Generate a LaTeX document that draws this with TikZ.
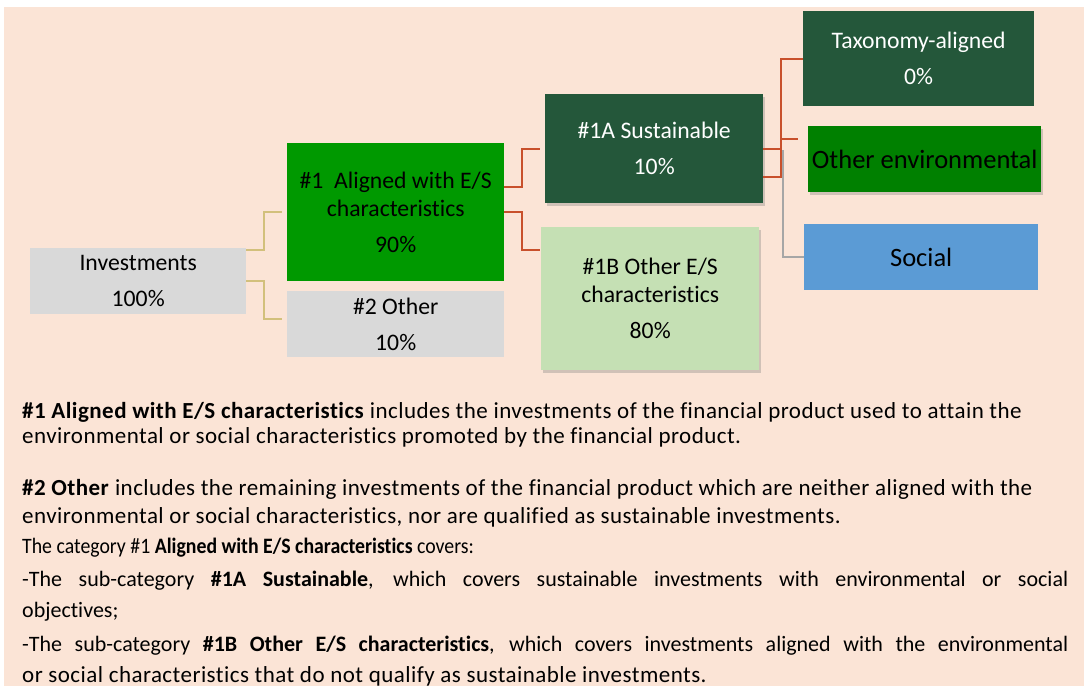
\documentclass[tikz,border=0pt]{standalone}
\usepackage{fontspec}
\setmainfont{Carlito}[Ligatures=NoCommon]
\newfontfamily\widefont{Carlito}[Ligatures=NoCommon,LetterSpace=2]
\newfontfamily\condfont{Carlito}[Ligatures=NoCommon,FakeStretch=0.9]
\usetikzlibrary{shadows,calc}
\definecolor{bgc}{HTML}{FBE4D6}
\definecolor{greyb}{HTML}{D9D9D9}
\definecolor{greenb}{HTML}{009900}
\definecolor{darkg}{HTML}{24573A}
\definecolor{lightg}{HTML}{C5E0B4}
\definecolor{envg}{HTML}{008000}
\definecolor{blueb}{HTML}{5B9BD5}
\definecolor{olivec}{HTML}{D2C07C}
\definecolor{redc}{HTML}{C8502C}
\definecolor{greyc}{HTML}{A6A6A6}
\tikzset{
  box/.style={draw=none, inner sep=0pt, align=center, anchor=north west,
    font=\fontsize{23.7}{28}\selectfont},
  shad/.style={drop shadow={opacity=0.35, shadow xshift=2pt, shadow yshift=-3pt}},
  conO/.style={olivec, line width=2pt},
  conR/.style={redc, line width=2pt},
  conG/.style={greyc, line width=2pt},
  para/.style={anchor=base west, inner sep=0pt, font=\fontsize{22}{26}\selectfont},
  wpara/.style={para, font=\widefont\fontsize{23}{26}\selectfont},
  cpara/.style={para, font=\condfont\fontsize{22}{26}\selectfont}
}
\begin{document}
\begin{tikzpicture}[x=1pt,y=-1pt]
\useasboundingbox (0,0) rectangle (1088,686);
\fill[bgc] (4,7) rectangle (1084,686);

\node[box, fill=greyb, minimum width=216pt, minimum height=66pt] (inv) at (30,248)
  {Investments\\[8pt]100\%};
\node[box, fill=greenb, minimum width=217pt, minimum height=138pt] (a1) at (287,143)
  {\#1~ Aligned with E/S\\characteristics\\[8pt]90\%};
\node[box, fill=greyb, minimum width=217pt, minimum height=66pt] (o2) at (287,291)
  {\#2 Other\\[8pt]10\%};
\node[box, shad, fill=darkg, text=white, minimum width=218pt, minimum height=109pt] (s1a) at (545,94)
  {\#1A Sustainable\\[8pt]10\%};
\node[box, shad, fill=lightg, minimum width=218pt, minimum height=143pt] (s1b) at (541,227)
  {\#1B Other E/S\\characteristics\\[8pt]80\%};
\node[box, fill=darkg, text=white, minimum width=231pt, minimum height=95pt] (tax) at (803,11)
  {Taxonomy-aligned\\[8pt]0\%};
\node[box, shad, fill=envg, minimum width=233pt, minimum height=66pt, font=\fontsize{26.5}{30}\selectfont] (oenv) at (808,126)
  {Other environmental};
\node[box, fill=blueb, minimum width=234pt, minimum height=66pt, font=\fontsize{26.5}{30}\selectfont] (soc) at (804,224)
  {Social};

\draw[conO] ([yshift=-2pt]inv.north east) -- ++(18,0) |- ([xshift=-5pt]a1.west);
\draw[conO] (inv.east) -- ++(18,0) |- ([xshift=-5pt,yshift=5pt]o2.west);
\draw[conR] ([yshift=25pt]a1.east) -- ++(18,0) |- ([xshift=-5pt]s1a.west);
\draw[conR] (a1.east) -- ++(18,0) |- ([xshift=-1pt,yshift=-23pt]s1b.north west);
\draw[conG] ([xshift=20pt,yshift=-1.5pt]s1a.east) |- (soc.west);
\draw[conR] (s1a.east) -- ++(18,0) |- (tax.west);
\draw[conR] ([yshift=-28.5pt]s1a.east) -- ++(18,0) |- ([xshift=-10pt,yshift=20pt]oenv.west);

\node[wpara] (p1) at (22,418) {\textbf{\#1 Aligned with E/S characteristics} includes the investments of the financial product used to attain the};
\node[wpara] (p2) at (22,443) {environmental or social characteristics promoted by the financial product.};
\node[wpara] (p3) at (22,495) {\textbf{\#2 Other} includes the remaining investments of the financial product which are neither aligned with the};
\node[wpara] (p4) at (22,523) {environmental or social characteristics, nor are qualified as sustainable investments.};
\node[cpara] (p5) at (22,553) {The category \#1 \textbf{Aligned with E/S characteristics} covers:};
\node[para] (p6) at (22,586) {\hbox to 1046pt{-The sub-category \textbf{\#1A Sustainable}, which covers sustainable investments with environmental or social}};
\node[para] (p7) at (22,617) {objectives;};
\node[para] (p8) at (22,651) {\hbox to 1046pt{-The sub-category \textbf{\#1B Other E/S characteristics}, which covers investments aligned with the environmental}};
\node[wpara] (p9) at (22,682) {or social characteristics that do not qualify as sustainable investments.};
\end{tikzpicture}
\end{document}
